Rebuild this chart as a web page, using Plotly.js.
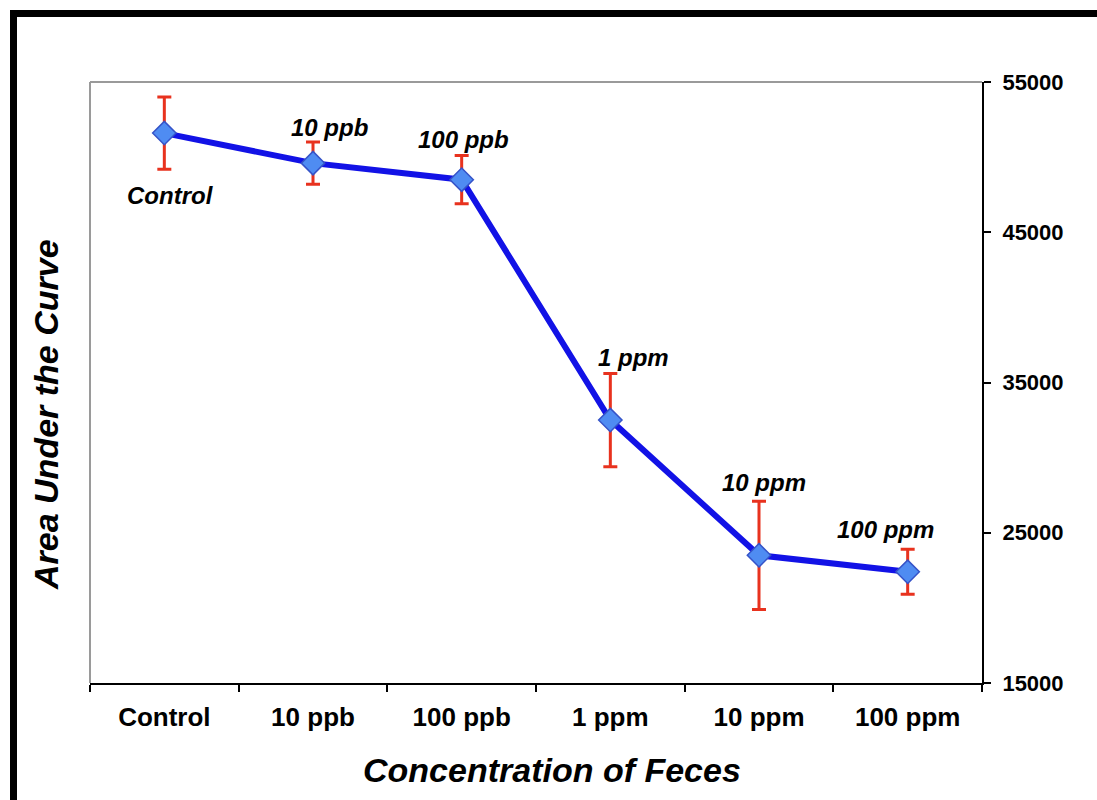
<!DOCTYPE html>
<html>
<head>
<meta charset="utf-8">
<script src="https://cdn.plot.ly/plotly-3.0.1.min.js"></script>
<style>
html,body{margin:0;padding:0;background:#fff;}
#chart{width:1097px;height:800px;}
</style>
</head>
<body>
<div id="chart"></div>
<script>
const categories = ["Control", "10 ppb", "100 ppb", "1 ppm", "10 ppm", "100 ppm"];
const auc = [51600, 49600, 48500, 32500, 23500, 22400];
const aucErr = [2400, 1400, 1600, 3100, 3600, 1500];
const pointLabels = ["Control", "10 ppb", "100 ppb", "1 ppm", "10 ppm", "100 ppm"];
const labelShiftX = [6, 16, 2, 23, 5, -22];
const labelShiftY = [-62, 36, 40, 63, 73, 42];
const yTicks = [15000, 25000, 35000, 45000, 55000];
const xTitle = "Concentration of Feces";
const yTitle = "Area Under the Curve";

const FONT = "Liberation Sans, Arial, sans-serif";

const trace = {
  x: categories,
  y: auc,
  type: "scatter",
  mode: "lines+markers",
  line: {color: "#1212e6", width: 6},
  marker: {symbol: "diamond", size: 18, color: "#4f8cf2", line: {color: "#3553c8", width: 1.5}},
  error_y: {type: "data", array: aucErr, visible: true, color: "#e8321e", thickness: 3, width: 7},
  hoverinfo: "none",
  showlegend: false
};

const annotations = categories.map((c, i) => ({
  x: c, y: auc[i], xref: "x", yref: "y",
  text: "<b><i>" + pointLabels[i] + "</i></b>",
  showarrow: false,
  xshift: labelShiftX[i], yshift: labelShiftY[i],
  font: {family: FONT, size: 24, color: "#000"}
}));

const layout = {
  width: 1097, height: 800,
  margin: {l: 90, r: 115, t: 82, b: 117},
  paper_bgcolor: "#fff", plot_bgcolor: "#fff",
  font: {family: FONT, color: "#000"},
  xaxis: {
    type: "category",
    range: [-0.5, 5.5],
    tickson: "boundaries",
    ticks: "outside", ticklen: 7, tickwidth: 2, tickcolor: "#000",
    showline: true, linecolor: "#000", linewidth: 2,
    showgrid: false, zeroline: false,
    ticklabelstandoff: 10,
    tickfont: {family: FONT, size: 26, color: "#000", weight: "bold"},
    fixedrange: true
  },
  yaxis: {
    side: "right",
    range: [15000, 55000],
    tickvals: yTicks,
    ticktext: yTicks.map(String),
    ticks: "outside", ticklen: 7, tickwidth: 2, tickcolor: "#000",
    showline: true, linecolor: "#000", linewidth: 2,
    showgrid: false, zeroline: false,
    ticklabelstandoff: 7,
    tickfont: {family: FONT, size: 22, color: "#000", weight: "bold"},
    fixedrange: true
  },
  annotations: annotations.concat([
    {
      xref: "paper", yref: "paper",
      x: (46 - 90) / 892, y: (683 - 415) / 601,
      xanchor: "center", yanchor: "middle",
      text: "<b><i>" + yTitle + "</i></b>",
      showarrow: false, textangle: -90,
      font: {family: FONT, size: 34, color: "#000"}
    },
    {
      xref: "paper", yref: "paper",
      x: (552 - 90) / 892, y: (683 - 770) / 601,
      xanchor: "center", yanchor: "middle",
      text: "<b><i>" + xTitle + "</i></b>",
      showarrow: false,
      font: {family: FONT, size: 34, color: "#000"}
    }
  ]),
  shapes: [
    {type: "line", xref: "paper", yref: "paper", x0: 0, x1: 0, y0: 0, y1: 1, line: {color: "#9a9a9a", width: 2}},
    {type: "line", xref: "paper", yref: "paper", x0: 0, x1: 1, y0: 1, y1: 1, line: {color: "#9a9a9a", width: 2}},
    {type: "rect", xref: "paper", yref: "paper",
     x0: (13.5 - 90) / 892, x1: 1.3, y0: -0.3, y1: (683 - 13.5) / 601,
     line: {color: "#000", width: 7}, fillcolor: "rgba(0,0,0,0)", layer: "below"}
  ]
};

Plotly.newPlot("chart", [trace], layout, {displayModeBar: false, staticPlot: true});
</script>
</body>
</html>
